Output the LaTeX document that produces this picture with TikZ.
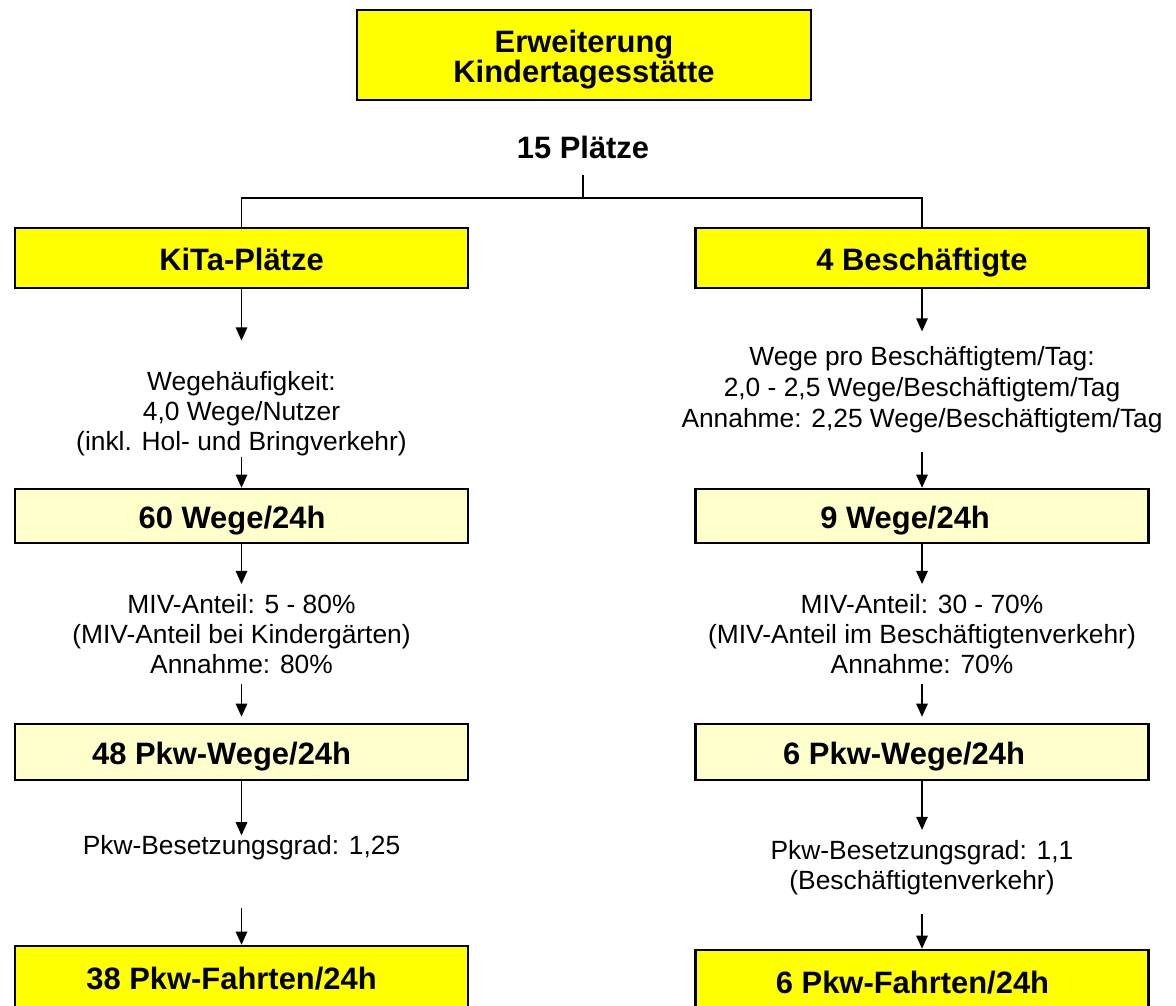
\documentclass[tikz,border=0pt]{standalone}
\usepackage{fontspec}
\setmainfont{Liberation Sans}
\usetikzlibrary{arrows.meta}
\definecolor{gelb}{HTML}{FFFF00}
\definecolor{hellgelb}{HTML}{FFFFCC}
\tikzset{box/.style={draw,line width=1.4pt,minimum width=9.06cm,inner sep=0pt,align=center,font=\fontsize{17.6}{17.5}\selectfont\bfseries},
einzeilig/.style={text height=14.5pt,text depth=0pt},
hauptbox/.style={box,fill=gelb},
zwischenbox/.style={box,fill=hellgelb,einzeilig},
info/.style={inner sep=0pt,align=center,font=\fontsize{15}{17}\selectfont},
pfeil/.style={draw,line width=1pt,-{Triangle[length=7.5pt,width=6.5pt]}}}

\begin{document}
\begin{tikzpicture}[x=0.02cm,y=-0.02cm]
\clip (0,0) rectangle (1176,1006);
\path
(584,55) node[hauptbox,minimum width=9.08cm,minimum height=1.8cm,text height=31.8pt,text depth=0pt](1){Erweiterung\\Kindertagesstätte}
(583,147) node[font=\fontsize{17.6}{17.5}\selectfont\bfseries,inner sep=0pt](2){15 Plätze}
(241.5,258) node[hauptbox,einzeilig,minimum height=1.2cm](3){KiTa-Plätze}
(922,258) node[hauptbox,einzeilig,minimum height=1.2cm](4){4 Beschäftigte}
% linke Seite
(241.5,414) node[info](5){Wegehäufigkeit:\\4,0 Wege/Nutzer\\(inkl. Hol- und Bringverkehr)}
(241.5,516) node[zwischenbox,minimum height=1.08cm](6){60 Wege/24h\hspace*{10.8pt}}
(241.5,634) node[info](7){MIV-Anteil: 5 - 80\%\\(MIV-Anteil bei Kindergärten)\\Annahme: 80\%}
(241.5,752) node[zwischenbox,minimum height=1.12cm](8){48 Pkw-Wege/24h\hspace*{22.7pt}}
(241.5,848) node[info](9){Pkw-Besetzungsgrad: 1,25}
(241.5,977) node[hauptbox,einzeilig,minimum height=1.24cm](10){38 Pkw-Fahrten/24h\hspace*{11.3pt}}
% rechte Seite
(922,390) node[info,font=\fontsize{15}{17.6}\selectfont](11){Wege pro Beschäftigtem/Tag:\\2,0 - 2,5 Wege/Beschäftigtem/Tag\\Annahme: 2,25 Wege/Beschäftigtem/Tag}
(922,516) node[zwischenbox,minimum height=1.08cm](12){9 Wege/24h\hspace*{19.3pt}}
(922,634) node[info](13){MIV-Anteil: 30 - 70\%\\(MIV-Anteil im Beschäftigtenverkehr)\\Annahme: 70\%}
(922,752) node[zwischenbox,minimum height=1.12cm](14){6 Pkw-Wege/24h\hspace*{20.4pt}}
(922,867.5) node[info](15){Pkw-Besetzungsgrad: 1,1\\(Beschäftigtenverkehr)}
(922,981) node[hauptbox,einzeilig,minimum height=1.24cm](16){6 Pkw-Fahrten/24h\hspace*{10.8pt}};
\coordinate (k) at (583,198);
\path[draw,line width=1pt,shorten <=0.32cm] (2)--(k);
\path[draw,line width=1pt] (k)-|(3);
\path[draw,line width=1pt] (k)-|(4);
\path[pfeil,shorten >=0.62cm] (3)--(5);
\path[pfeil] (5)--(6);
\path[pfeil,shorten >=0.2cm] (6)--(7);
\path[pfeil,shorten <=0.2cm,shorten >=0.12cm] (7)--(8);
\path[pfeil] (8)--(9);
\path[pfeil,shorten <=0.94cm] (9)--(10);
\path[pfeil,shorten >=0.3cm] (4)--(11);
\path[pfeil,shorten <=0.36cm] (11)--(12);
\path[pfeil,shorten >=0.2cm] (12)--(13);
\path[pfeil,shorten <=0.2cm,shorten >=0.12cm] (13)--(14);
\path[pfeil,shorten >=0.2cm] (14)--(15);
\path[pfeil,shorten <=0.38cm] (15)--(16);
\end{tikzpicture}
\end{document}
